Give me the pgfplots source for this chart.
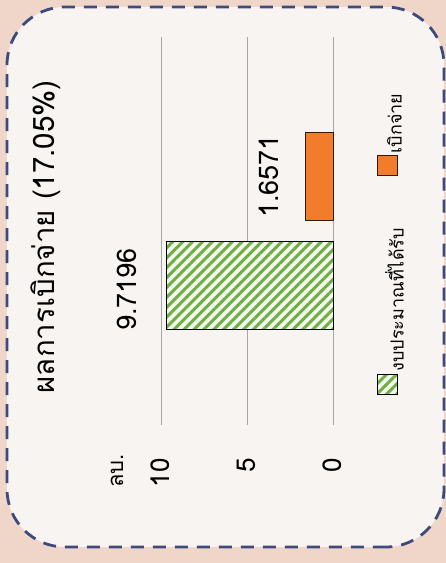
\documentclass[border=0pt]{standalone}
\usepackage{pgfplots}
\pgfplotsset{compat=1.18}
\usetikzlibrary{patterns.meta}
\usepackage{fontspec}
\setmainfont[Script=Thai]{Loma}
\definecolor{bgpink}{HTML}{EFD6C8}
\definecolor{boxfill}{HTML}{F8F4F1}
\definecolor{navy}{HTML}{3D4B7C}
\definecolor{hgreen}{HTML}{70AD47}
\definecolor{palegreen}{HTML}{F3F9EC}
\definecolor{orng}{HTML}{F07C2C}
\definecolor{gridgray}{HTML}{A6A6A6}
\begin{document}
\begin{tikzpicture}[rotate=90, transform shape, x=1pt, y=1pt]
\fill[bgpink] (0,0) rectangle (563,446);
\filldraw[fill=boxfill, draw=navy, line width=2.8pt, dash pattern=on 13pt off 9pt, rounded corners=58pt] (16,2) rectangle (556,439);
\begin{axis}[
  /pgf/number format/assume math mode=true,
  at={(138pt,112pt)}, anchor=south west,
  scale only axis, width=388pt, height=172pt,
  xmin=-0.28, xmax=3.28, ymin=0, ymax=10,
  ytick={0,5,10}, xtick=\empty,
  ymajorgrids, grid style={gridgray, line width=1pt},
  axis line style={draw=none}, major tick length=0pt,
  tick label style={font=\fontsize{26}{30}\selectfont},
  yticklabel style={xshift=-30pt, yshift=2pt},
  clip=false,
  legend style={at={(0.469,-0.337)}, anchor=center, draw=none, fill=none,
    legend columns=2, font=\fontsize{18}{21}\selectfont, inner sep=0pt,
    /tikz/every even column/.append style={column sep=50pt}},
]
\addplot[ybar, bar width=0.8, bar shift=0pt, draw=black, line width=1pt,
  preaction={fill=palegreen},
  pattern={Lines[angle=45,distance=7pt,line width=3pt]}, pattern color=hgreen,
  nodes near coords={\pgfmathprintnumber[fixed,precision=4]{\pgfplotspointmeta}},
  nodes near coords style={font=\fontsize{27}{30}\selectfont, anchor=south, inner sep=0pt, yshift=30pt, xshift=-4pt, black},
  legend image code/.code={\draw[draw=black, line width=1pt, preaction={fill=palegreen}, pattern={Lines[angle=45,distance=7pt,line width=3pt]}, pattern color=hgreen] (0pt,-2pt) rectangle (20pt,18pt);}
] coordinates {(1,9.7196)};
\addlegendentry{งบประมาณที่ได้รับ}
\addplot[ybar, bar width=0.8, bar shift=0pt, draw=black!80!orng, line width=1pt, fill=orng,
  nodes near coords={\pgfmathprintnumber[fixed,precision=4]{\pgfplotspointmeta}},
  nodes near coords style={font=\fontsize{27}{30}\selectfont, anchor=south, inner sep=0pt, yshift=26pt, black},
  legend image code/.code={\draw[draw=black!80!orng, line width=1pt, fill=orng] (0pt,-2pt) rectangle (20pt,18pt);}
] coordinates {(2,1.6571)};
\addlegendentry{เบิกจ่าย}
\node[anchor=base, font=\fontsize{29.5}{34}\selectfont] at (axis description cs:0.485,1.625) {ผลการเบิกจ่าย (17.05\%)};
\node[anchor=base, font=\fontsize{22}{26}\selectfont] at (axis description cs:-0.1186,1.2267) {ลบ.};
\end{axis}
\end{tikzpicture}
\end{document}
